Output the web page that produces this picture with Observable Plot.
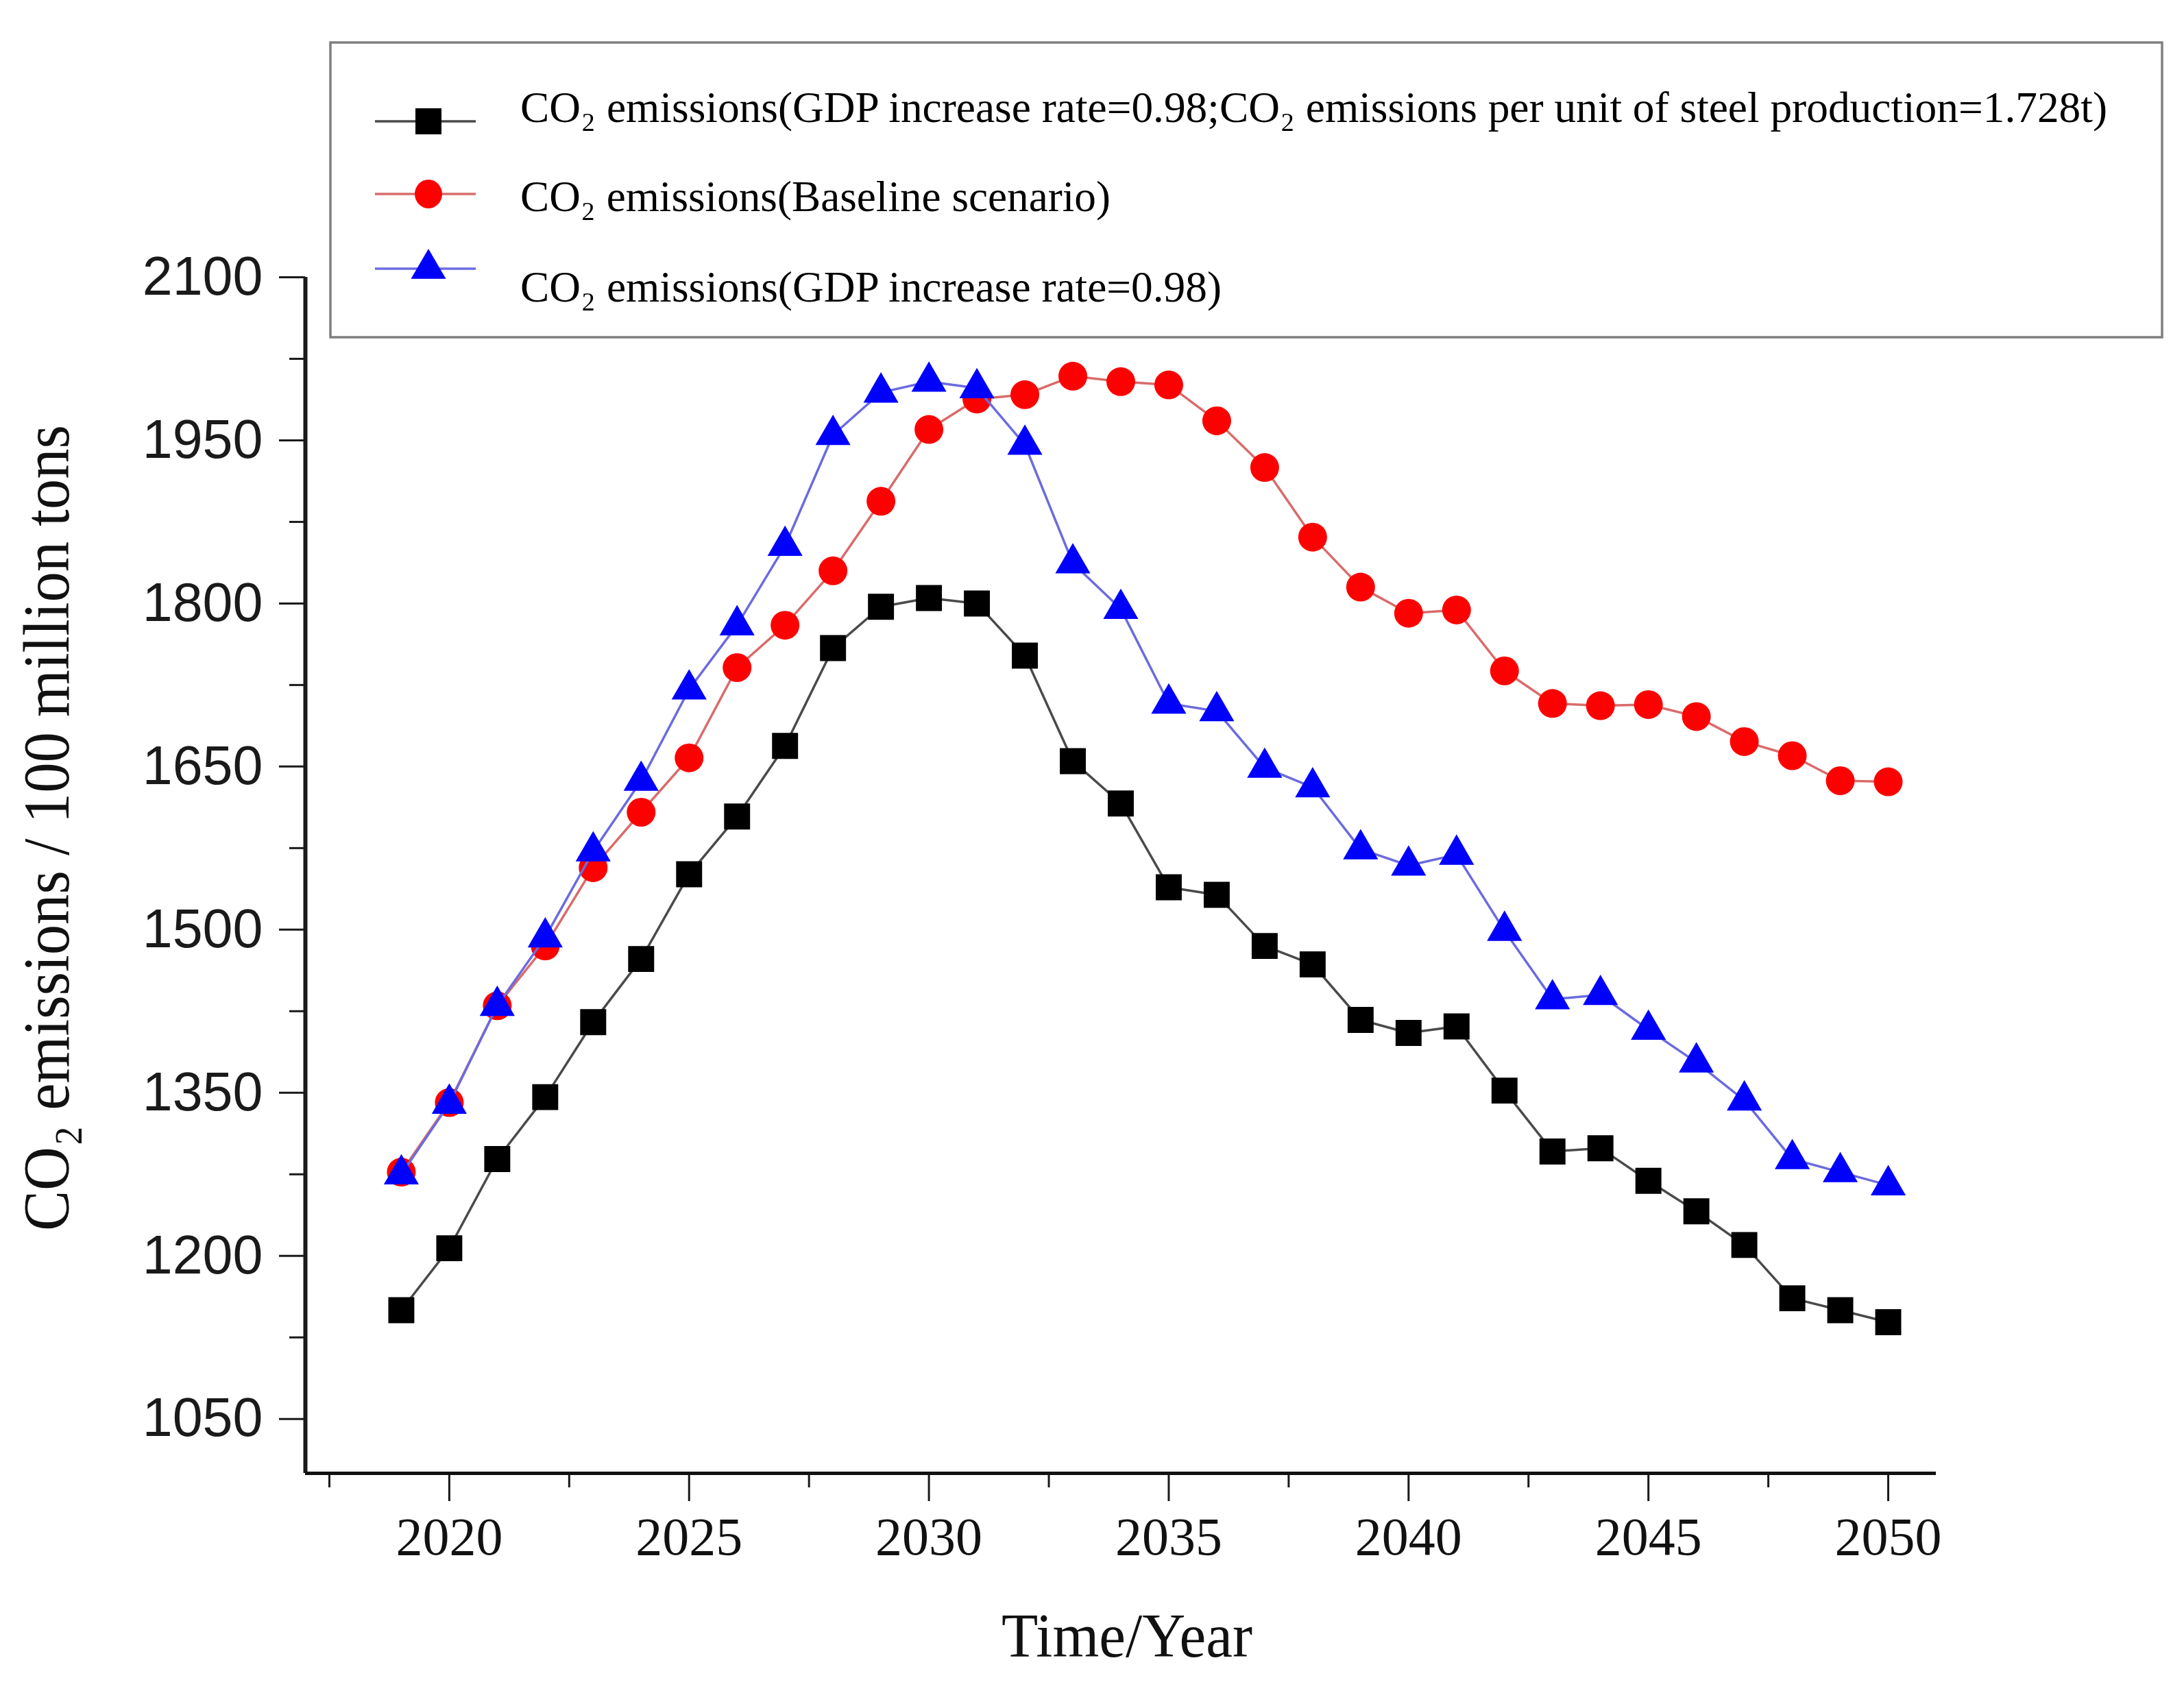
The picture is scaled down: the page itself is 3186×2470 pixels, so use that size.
<!DOCTYPE html>
<html><head><meta charset="utf-8">
<script src="https://cdn.jsdelivr.net/npm/d3@7"></script>
<script src="https://cdn.jsdelivr.net/npm/@observablehq/plot@0.6"></script>
<style>
html,body{margin:0;padding:0;background:#fff;}
#wrap{position:relative;width:3186px;height:2470px;overflow:hidden;background:#fff;}
#wrap > svg{position:absolute;left:0;top:0;}
</style></head>
<body><div id="wrap"></div>
<script>
// ---- data ----
const years = [2019,2020,2021,2022,2023,2024,2025,2026,2027,2028,2029,2030,2031,2032,2033,2034,2035,2036,2037,2038,2039,2040,2041,2042,2043,2044,2045,2046,2047,2048,2049,2050];
const steelValues = [1150,1207,1289,1346,1415,1473,1551,1604,1669,1759,1797,1805,1800,1752,1655,1616,1539,1532,1485,1468,1417,1405,1411,1352,1296,1299,1269,1241,1210,1161,1150,1139];
const baselineValues = [1277,1341,1430,1485,1557,1608,1658,1741,1780,1830,1894,1960,1988,1992,2009,2004,2001,1968,1925,1861,1815,1791,1794,1738,1708,1706,1707,1696,1673,1660,1637,1636];
const gdpValues = [1275,1340,1430,1493,1572,1637,1721,1780,1853,1955,1994,2004,1998,1946,1837,1795,1708,1701,1649,1631,1574,1559,1569,1499,1436,1440,1408,1378,1343,1289,1277,1265];
const seriesKeys = ["steel", "baseline", "gdp"];
const legendLabels = [
  "CO\u2082 emissions(GDP increase rate=0.98;CO\u2082 emissions per unit of steel production=1.728t)",
  "CO\u2082 emissions(Baseline scenario)",
  "CO\u2082 emissions(GDP increase rate=0.98)"
];
const xMajorTicks = [2020,2025,2030,2035,2040,2045,2050];
const xMinorTicks = [2017.5,2022.5,2027.5,2032.5,2037.5,2042.5,2047.5];
const yMajorTicks = [1050,1200,1350,1500,1650,1800,1950,2100];
const yMinorTicks = [1125,1275,1425,1575,1725,1875,2025];
const xDomain = [2017, 2051];
const yDomain = [1000, 2100];
const xTitle = "Time/Year";
const yTitle = "CO\u2082 emissions / 100 million tons";

// ---- table ----
const seriesValues = {steel: steelValues, baseline: baselineValues, gdp: gdpValues};
const table = seriesKeys.flatMap(k => years.map((yr, i) => ({series: k, year: yr, value: seriesValues[k][i]})));
const of = k => table.filter(d => d.series === k);

const styles = {
  steel: {line: "#4a4a4a", fill: "#000000", symbol: "square", r: 21.4},
  baseline: {line: "#d96b6b", fill: "#ff0000", symbol: "circle", r: 21},
  gdp: {line: "#6b6bdf", fill: "#0000ff", symbol: "triangle", r: 19}
};

const seriesMarks = seriesKeys.flatMap(k => [
  Plot.line(of(k), {x: "year", y: "value", stroke: styles[k].line, strokeWidth: 3.5}),
  Plot.dot(of(k), {x: "year", y: "value", symbol: styles[k].symbol, r: styles[k].r, fill: styles[k].fill, stroke: "none"})
]);

const chart = Plot.plot({
  width: 3186, height: 2470,
  marginLeft: 445, marginRight: 362, marginTop: 404, marginBottom: 321,
  style: {background: "transparent", color: "#111", fontFamily: "Liberation Sans", overflow: "visible"},
  x: {domain: xDomain, label: null},
  y: {domain: yDomain, label: null},
  marks: [
    Plot.axisY({ticks: yMajorTicks, tickSize: 38, tickPadding: 24, fontSize: 79, fontFamily: "Liberation Sans", strokeWidth: 3, stroke: "#1a1a1a", fill: "#1a1a1a", tickFormat: d => String(d), label: null}),
    Plot.axisY({ticks: yMinorTicks, tickSize: 23, strokeWidth: 3, stroke: "#1a1a1a", tickFormat: () => "", label: null}),
    Plot.axisX({ticks: xMajorTicks, tickSize: 41, tickPadding: 22, fontSize: 78, fontFamily: "Liberation Serif", strokeWidth: 3, stroke: "#1a1a1a", fill: "#111", tickFormat: d => String(d), label: null}),
    Plot.axisX({ticks: xMinorTicks, tickSize: 21, strokeWidth: 3, stroke: "#1a1a1a", tickFormat: () => "", label: null}),
    Plot.ruleX([xDomain[0]], {stroke: "#1a1a1a", strokeWidth: 6}),
    Plot.ruleY([yDomain[0]], {stroke: "#111", strokeWidth: 5}),
    ...seriesMarks
  ]
});
const wrap = document.getElementById("wrap");
wrap.appendChild(chart);

// ---- overlay: axis titles and legend ----
const NS = "http://www.w3.org/2000/svg";
const ov = document.createElementNS(NS, "svg");
ov.setAttribute("width", 3186); ov.setAttribute("height", 2470);
ov.setAttribute("id", "overlay");
wrap.appendChild(ov);

function el(name, attrs, parent) {
  const e = document.createElementNS(NS, name);
  for (const k in attrs) e.setAttribute(k, attrs[k]);
  (parent || ov).appendChild(e);
  return e;
}

// Y title
const yt = el("text", {transform: "translate(100,1208) rotate(-90)", "text-anchor": "middle", "font-family": "Liberation Serif, DejaVu Serif", "font-size": 95, fill: "#111", textLength: 1176, lengthAdjust: "spacingAndGlyphs"});
yt.textContent = yTitle;
// X title
const xt = el("text", {x: 1644, y: 2417, "text-anchor": "middle", "font-family": "Liberation Serif", "font-size": 90, fill: "#111", textLength: 366, lengthAdjust: "spacingAndGlyphs"});
xt.textContent = xTitle;

// Legend
const lg = el("g", {});
el("rect", {x: 482, y: 62, width: 2672, height: 430, fill: "#fff", stroke: "#7f7f7f", "stroke-width": 3.5}, lg);
const rowMarkerY = [177, 283, 392];
const rowTextY = [178, 308, 440];
const rowTextLen = [2315, 861, 1023];
seriesKeys.forEach((k, i) => {
  const s = styles[k];
  const cy = rowMarkerY[i];
  el("line", {x1: 547, x2: 694, y1: cy, y2: cy, stroke: s.line, "stroke-width": 3.5}, lg);
  if (s.symbol === "square") el("rect", {x: 625 - 19, y: cy - 19, width: 38, height: 38, fill: s.fill}, lg);
  else if (s.symbol === "circle") el("ellipse", {cx: 625, cy: cy, rx: 20, ry: 21, fill: s.fill}, lg);
  else el("path", {d: `M625,${cy - 29} L${625 + 25.5},${cy + 14.7} L${625 - 25.5},${cy + 14.7} Z`, fill: s.fill}, lg);
  const t = el("text", {x: 759, y: rowTextY[i], "font-family": "Liberation Serif, DejaVu Serif", "font-size": 64, fill: "#000", textLength: rowTextLen[i], lengthAdjust: "spacingAndGlyphs"}, lg);
  t.textContent = legendLabels[i];
});
</script>
</body></html>
